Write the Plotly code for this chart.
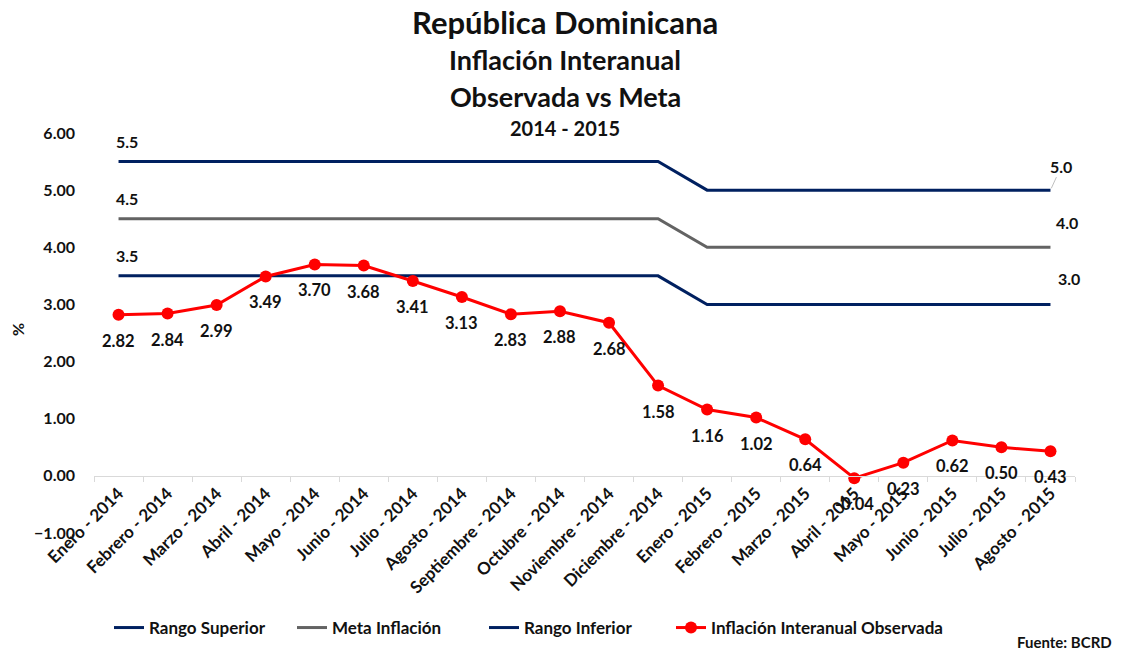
import plotly.graph_objects as go

# Meses del periodo
meses = [
    "Enero - 2014", "Febrero - 2014", "Marzo - 2014", "Abril - 2014", "Mayo - 2014",
    "Junio - 2014", "Julio - 2014", "Agosto - 2014", "Septiembre - 2014", "Octubre - 2014",
    "Noviembre - 2014", "Diciembre - 2014", "Enero - 2015", "Febrero - 2015", "Marzo - 2015",
    "Abril - 2015", "Mayo - 2015", "Junio - 2015", "Julio - 2015", "Agosto - 2015",
]

# Rango meta (%)
rango_superior = [5.5] * 12 + [5.0] * 8
meta_inflacion = [4.5] * 12 + [4.0] * 8
rango_inferior = [3.5] * 12 + [3.0] * 8

# Inflación interanual observada (%)
inflacion_observada = [2.82, 2.84, 2.99, 3.49, 3.70, 3.68, 3.41, 3.13, 2.83, 2.88,
                       2.68, 1.58, 1.16, 1.02, 0.64, -0.04, 0.23, 0.62, 0.50, 0.43]

FONT = "Lato"
NAVY = "#002060"
GRAY = "#636363"
RED = "#FF0000"
TXT = "#111111"

plot_top, plot_bottom, plot_left, plot_w = 133, 533, 94, 981
plot_h = plot_bottom - plot_top

fig = go.Figure()
fig.add_trace(go.Scatter(x=meses, y=rango_superior, name="Rango Superior", mode="lines",
                         line=dict(color=NAVY, width=3), legend="legend"))
fig.add_trace(go.Scatter(x=meses, y=meta_inflacion, name="Meta Inflación", mode="lines",
                         line=dict(color=GRAY, width=3), legend="legend2"))
fig.add_trace(go.Scatter(x=meses, y=rango_inferior, name="Rango Inferior", mode="lines",
                         line=dict(color=NAVY, width=3), legend="legend3"))
fig.add_trace(go.Scatter(x=meses, y=inflacion_observada, name="Inflación Interanual Observada",
                         mode="lines+markers", line=dict(color=RED, width=3),
                         marker=dict(color=RED, size=12), legend="legend4"))

annotations = []
# Etiquetas de la serie observada, debajo de cada punto
for m, v in zip(meses, inflacion_observada):
    annotations.append(dict(x=m, y=v, xref="x", yref="y", text=f"{v:.2f}", showarrow=False,
                            yshift=-26, font=dict(family=FONT, size=16.5, color=TXT)))

# Etiquetas de inicio y fin de las series del rango meta
for serie in (rango_superior, meta_inflacion, rango_inferior):
    annotations.append(dict(x=meses[0], y=serie[0], xref="x", yref="y", text=f"{serie[0]:.1f}",
                            showarrow=False, xshift=8, yshift=20,
                            font=dict(family=FONT, size=16, color=TXT)))
fin_shift = [(11, 24), (17, 25), (19, 26)]
for i, (serie, (dx, dy)) in enumerate(zip((rango_superior, meta_inflacion, rango_inferior), fin_shift)):
    ann = dict(x=meses[-1], y=serie[-1], xref="x", yref="y", text=f"{serie[-1]:.1f}",
               font=dict(family=FONT, size=16, color=TXT))
    if i == 0:
        ann.update(showarrow=True, arrowhead=0, arrowwidth=1, arrowcolor="#BFBFBF",
                   ax=dx, ay=-dy, standoff=2)
    else:
        ann.update(showarrow=False, xshift=dx, yshift=dy)
    annotations.append(ann)

# Títulos
titulos = [
    ("República Dominicana", 31, 22),
    ("Inflación Interanual", 27, 60),
    ("Observada vs Meta", 27, 97),
    ("2014 - 2015", 20, 128),
]
for txt, size, ypx in titulos:
    annotations.append(dict(x=(565 - plot_left) / plot_w, y=(plot_bottom - ypx) / plot_h,
                            xref="paper", yref="paper", text=f"<b>{txt}</b>", showarrow=False,
                            xanchor="center", yanchor="middle",
                            font=dict(family=FONT, size=size, color=TXT)))

annotations.append(dict(x=(1114 - plot_left) / plot_w, y=(plot_bottom - 642) / plot_h,
                        xref="paper", yref="paper", text="<b>Fuente: BCRD</b>", showarrow=False,
                        xanchor="right", yanchor="middle",
                        font=dict(family=FONT, size=15, color=TXT)))
annotations.append(dict(x=-77 / plot_w, y=(plot_bottom - 330) / plot_h,
                        xref="paper", yref="paper", text="<b>%</b>", showarrow=False, textangle=-90,
                        xanchor="center", yanchor="middle",
                        font=dict(family=FONT, size=16, color=TXT)))

# Una leyenda por serie, alineadas en una fila bajo el gráfico
leg_common = dict(orientation="h", xanchor="left", yanchor="middle",
                  y=(plot_bottom - 628) / plot_h, bgcolor="rgba(0,0,0,0)",
                  font=dict(family=FONT, size=17, color=TXT, weight="bold"))
leg_x_px = [109, 292, 484, 671]
legends = {}
for k, px in enumerate(leg_x_px):
    key = "legend" if k == 0 else f"legend{k + 1}"
    legends[key] = dict(leg_common, x=(px - plot_left) / plot_w)

ymin, ymax = -1, 6
fig.update_layout(
    width=1122, height=653,
    margin=dict(l=94, r=47, t=133, b=120, autoexpand=False),
    paper_bgcolor="white", plot_bgcolor="white",
    font=dict(family=FONT, size=16, color=TXT, weight="bold"),
    showlegend=True,
    annotations=annotations,
    xaxis=dict(type="category", range=[-0.5, len(meses) - 0.5], anchor="free",
               position=(0 - ymin) / (ymax - ymin), showline=True, linecolor="#D9D9D9", linewidth=1,
               ticks="outside", tickson="boundaries", ticklen=5, tickcolor="#D9D9D9",
               tickangle=-45, showgrid=False, zeroline=False, automargin=False,
               tickfont=dict(family=FONT, size=17, color=TXT, weight="bold")),
    yaxis=dict(range=[ymin, ymax], dtick=1, tick0=0, tickformat=".2f", showgrid=False,
               zeroline=False, showline=False, ticks="", ticklabelstandoff=18, automargin=False,
               tickfont=dict(family=FONT, size=16, color=TXT, weight="bold")),
    **legends,
)

fig.write_html("out.html")
